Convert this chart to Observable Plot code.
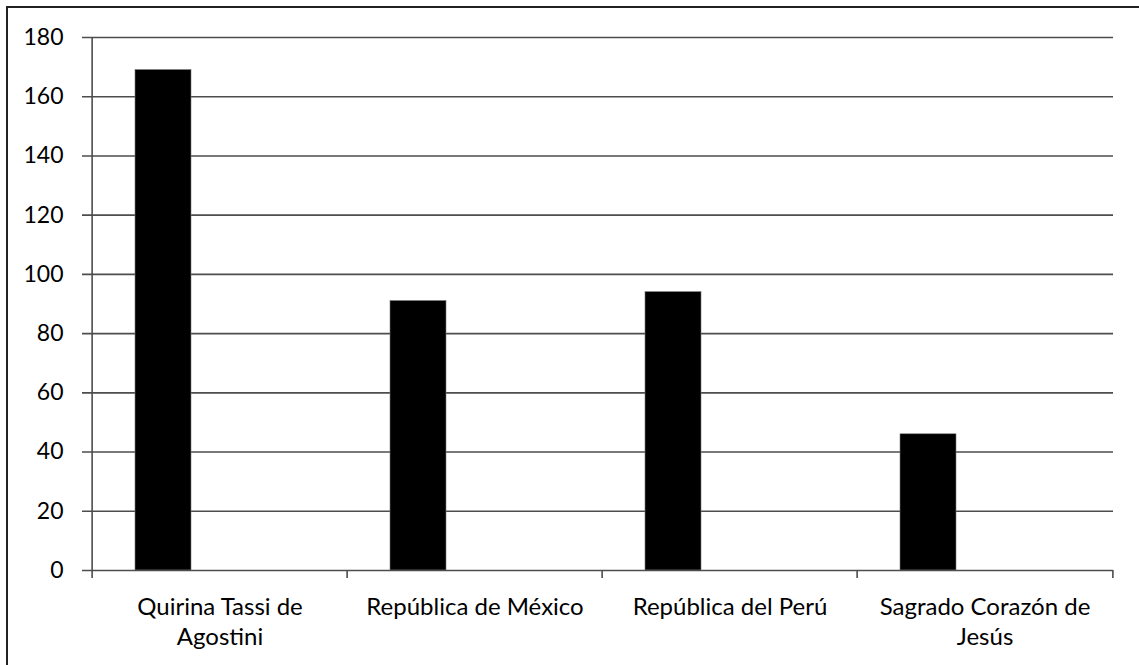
<!DOCTYPE html>
<html>
<head>
<meta charset="utf-8">
<script src="https://cdn.jsdelivr.net/npm/d3@7"></script>
<script src="https://cdn.jsdelivr.net/npm/@observablehq/plot@0.6"></script>
<style>
  html, body { margin: 0; padding: 0; background: #fff; }
  #wrap { position: relative; width: 1139px; height: 665px; overflow: hidden; }
  #frame { position: absolute; left: 6px; top: 6px; width: 2000px; height: 2000px;
           border-left: 2px solid #222; border-top: 2px solid #222; pointer-events: none; }
  svg { display: block; }
</style>
</head>
<body>
<div id="wrap"><div id="frame"></div></div>
<script>
const categories = ["Quirina Tassi de\nAgostini", "República de México", "República del Perú", "Sagrado Corazón de\nJesús"];
const values = [169, 91, 94, 46];
const yTicks = [0, 20, 40, 60, 80, 100, 120, 140, 160, 180];

const data = categories.map((c, i) => ({ cat: c, value: values[i] }));

const W = 1139, H = 665, mL = 90, mR = 26, mT = 37, mB = 95;
const step = (W - mL - mR) / categories.length;
const gray = "#4d4d4d";

const chart = Plot.plot({
  width: W, height: H,
  marginLeft: mL, marginRight: mR, marginTop: mT, marginBottom: mB,
  style: { fontFamily: "Lato, 'Open Sans', sans-serif", fontSize: "23px", color: "#000", background: "transparent" },
  x: { domain: categories, padding: 0, label: null },
  y: { domain: [0, 180], label: null },
  marks: [
    Plot.ruleY(yTicks.filter(d => d > 0), { stroke: gray, strokeWidth: 1.6, insetLeft: -8 }),
    Plot.barY(data, { x: "cat", y: "value", fill: "#000", stroke: "#777", strokeWidth: 0.6, insetLeft: 43, insetRight: 156 }),
    Plot.ruleY([0], { stroke: gray, strokeWidth: 1.6, insetLeft: -8 }),
    Plot.ruleX([categories[0]], { dx: -step / 2, y1: 180, y2: 0, insetBottom: -8, stroke: gray, strokeWidth: 1.6 }),
    Plot.ruleX(categories.slice(1), { dx: -step / 2, y1: 0, y2: 0, insetBottom: -8, stroke: gray, strokeWidth: 1.6 }),
    Plot.ruleX([categories[categories.length - 1]], { dx: step / 2, y1: 0, y2: 0, insetBottom: -8, stroke: gray, strokeWidth: 1.6 }),
    Plot.axisY({ ticks: yTicks, tickSize: 0, tickPadding: 27, label: null, fill: "#000" }),
    Plot.axisX({ tickSize: 0, tickPadding: 23, label: null, lineHeight: 1.25, fontSize: 24, fill: "#000" })
  ]
});
document.getElementById("wrap").prepend(chart);
</script>
</body>
</html>
